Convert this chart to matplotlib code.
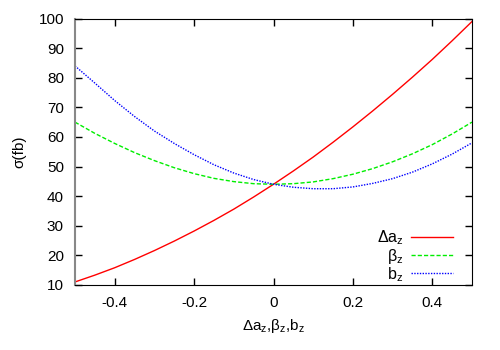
import matplotlib
matplotlib.use("Agg")
import matplotlib.pyplot as plt

plt.rcParams['font.family'] = ['Liberation Sans', 'DejaVu Sans']
plt.rcParams['mathtext.fontset'] = 'custom'
plt.rcParams['mathtext.rm'] = 'Liberation Sans'
plt.rcParams['mathtext.it'] = 'Liberation Sans'
plt.rcParams['mathtext.default'] = 'regular'

x = [-0.5, -0.45, -0.4, -0.35, -0.3, -0.25, -0.2, -0.15, -0.1, -0.05, 0.0,
     0.05, 0.1, 0.15, 0.2, 0.25, 0.3, 0.35, 0.4, 0.45, 0.5]

# sigma (fb)
delta_az = [11.0, 13.3, 15.8, 18.6, 21.6, 24.8, 28.2, 31.8, 35.6, 39.7, 44.0,
            48.5, 53.2, 58.2, 63.4, 68.8, 74.4, 80.2, 86.2, 92.5, 99.0]
beta_z = [65.0, 61.2, 57.8, 54.7, 52.0, 49.6, 47.6, 46.0, 44.9, 44.2, 44.0,
          44.2, 44.8, 45.9, 47.4, 49.3, 51.6, 54.3, 57.4, 61.0, 65.0]
b_z = [84.0, 78.2, 72.3, 66.9, 62.0, 57.8, 54.0, 50.6, 47.8, 45.6, 44.0,
       43.0, 42.5, 42.5, 43.1, 44.3, 45.9, 48.1, 50.9, 54.2, 58.0]

xticks = [-0.4, -0.2, 0, 0.2, 0.4]
xticklabels = ['-0.4', '-0.2', '0', '0.2', '0.4']
yticks = [10, 20, 30, 40, 50, 60, 70, 80, 90, 100]

fig = plt.figure(figsize=(5, 3.5), dpi=100)
ax = fig.add_axes([0.15, 0.186, 0.794, 0.761])

ax.plot(x, delta_az, color='#ff0000', lw=1.0, label=r'Δa$_z$')
ax.plot(x, beta_z, color='#00ee00', lw=1.0, dashes=(3, 1.5), label=r'β$_z$')
ax.plot(x, b_z, color='#0000ff', lw=1.0, dashes=(1, 1), label=r'b$_z$')

ax.set_xlim(-0.5, 0.5)
ax.set_ylim(10, 100)
ax.set_xticks(xticks)
ax.set_xticklabels(xticklabels)
ax.set_yticks(yticks)
ax.tick_params(direction='in', top=True, right=True, length=5, width=1,
               labelsize=11, pad=8)
ax.spines['left'].set_color('#888888')
ax.spines['left'].set_linewidth(1.5)

ax.set_xlabel(r'Δa$_z$,β$_z$,b$_z$', fontsize=11, labelpad=5)
ax.set_ylabel('σ(fb)', fontsize=11, labelpad=9)

ax.legend(loc='lower right', frameon=False, markerfirst=False, fontsize=11.5,
          handlelength=2.6, handletextpad=0.5, labelspacing=-0.05,
          borderpad=0, borderaxespad=0, bbox_to_anchor=(0.952, 0.005))

fig.savefig('out.png', dpi=100)
